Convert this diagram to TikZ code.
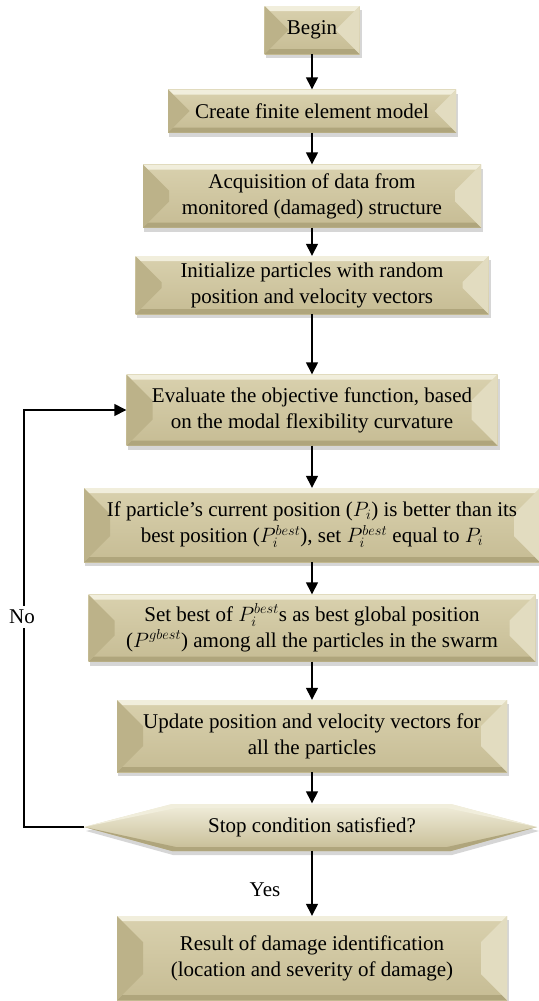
\documentclass[tikz,border=0pt]{standalone}
\usepackage{fontspec}
\setmainfont{Liberation Serif}
\usetikzlibrary{arrows.meta,calc}
\definecolor{facetop}{HTML}{D9D1AE}
\definecolor{facebot}{HTML}{C6BC94}
\definecolor{bevtop}{HTML}{F1EEDC}
\definecolor{bevbot}{HTML}{AFA57C}
\definecolor{bevleft}{HTML}{BCB289}
\definecolor{bevright}{HTML}{E2DCC0}
\tikzset{
  txt/.style={draw=none, align=center, inner sep=0pt, font=\fontsize{21}{26}\selectfont},
  lbl/.style={inner sep=0pt, font=\fontsize{21}{26}\selectfont},
  conn/.style={line width=1.4pt, black},
  arr/.style={conn, -{Triangle[width=12pt,length=12pt]}},
}
\newcommand\bevbox[6]{%
  \pgfmathsetmacro\bxl{#2-#4/2}%
  \pgfmathsetmacro\bxr{#2+#4/2}%
  \pgfmathsetmacro\byt{#3-#5/2}%
  \pgfmathsetmacro\byb{#3+#5/2}%
  \pgfmathsetmacro\bb{min(26,#5/2)}%
  \fill[black,opacity=0.16] (\bxl+1,\byt+4) rectangle (\bxr+2,\byb+4);
  \shade[top color=facetop,bottom color=facebot] (\bxl,\byt) rectangle (\bxr,\byb);
  \fill[bevtop] (\bxl,\byt) -- (\bxr,\byt) -- (\bxr-5,\byt+5) -- (\bxl+5,\byt+5) -- cycle;
  \fill[bevbot] (\bxl,\byb) -- (\bxr,\byb) -- (\bxr-5,\byb-5) -- (\bxl+5,\byb-5) -- cycle;
  \fill[bevleft] (\bxl,\byt) -- (\bxl+\bb,\byt+\bb) -- (\bxl+\bb,\byb-\bb) -- (\bxl,\byb) -- cycle;
  \fill[bevright] (\bxr,\byt) -- (\bxr-\bb,\byt+\bb) -- (\bxr-\bb,\byb-\bb) -- (\bxr,\byb) -- cycle;
  \node[txt,minimum width=#4pt,minimum height=#5pt] (#1) at (#2,#3) {#6};
}
\begin{document}
\begin{tikzpicture}[x=1pt,y=-1pt]
\useasboundingbox (0,0) rectangle (538,1001);

\bevbox{begin}{312}{30}{95}{48}{Begin}
\bevbox{create}{312}{111}{288}{43}{Create finite element model}
\bevbox{acq}{312}{196}{338}{63}{Acquisition of data from\\monitored (damaged) structure}
\bevbox{init}{312}{285}{353}{58}{Initialize particles with random\\position and velocity vectors}
\bevbox{eval}{312}{410}{371}{71}{Evaluate the objective function, based\\on the modal flexibility curvature}
\bevbox{ifp}{312}{525}{456}{74}{If particle's current position ($P_i$) is better than its\\best position ($P_i^{best}$), set $P_i^{best}$ equal to $P_i$}
\bevbox{setb}{312}{628}{447}{67}{Set best of $P_i^{best}$s as best global position\\($P^{gbest}$) among all the particles in the swarm}
\bevbox{upd}{312}{736}{390}{72}{Update position and velocity vectors for\\all the particles}

% stop condition hexagon
\fill[black,opacity=0.16] (86,831) -- (173,808) -- (452,808) -- (539,831) -- (452,855) -- (173,855) -- cycle;
\shade[top color=bevtop,bottom color=facebot] (84,827) -- (172,804) -- (451,804) -- (537,827) -- (451,851) -- (172,851) -- cycle;
\fill[bevtop] (84,827) -- (172,804) -- (451,804) -- (537,827) -- (447,808) -- (176,808) -- cycle;
\fill[bevbot] (84,827) -- (172,851) -- (451,851) -- (537,827) -- (447,847) -- (176,847) -- cycle;
\node[txt,minimum width=453pt,minimum height=47pt] (stop) at (312,827) {Stop condition satisfied?};
\coordinate (stopL) at (84,827);

\bevbox{result}{312}{958}{390}{84}{Result of damage identification\\(location and severity of damage)}

\draw[arr] (begin) -- (create);
\draw[arr] (create) -- (acq);
\draw[arr] (acq) -- (init);
\draw[arr] (init) -- (eval);
\draw[arr] (eval) -- (ifp);
\draw[arr] (ifp) -- (setb);
\draw[arr] (setb) -- (upd);
\draw[arr] (upd) -- (stop);
\draw[arr] (stop) -- (result);
\draw[arr] (stopL) -- ++(-60,0) |- (eval.west);

\node[lbl,fill=white,inner ysep=4pt,inner xsep=1pt] (no) at (22,617) {No};
\node[lbl] (yes) at (265,890) {Yes};
\end{tikzpicture}
\end{document}
